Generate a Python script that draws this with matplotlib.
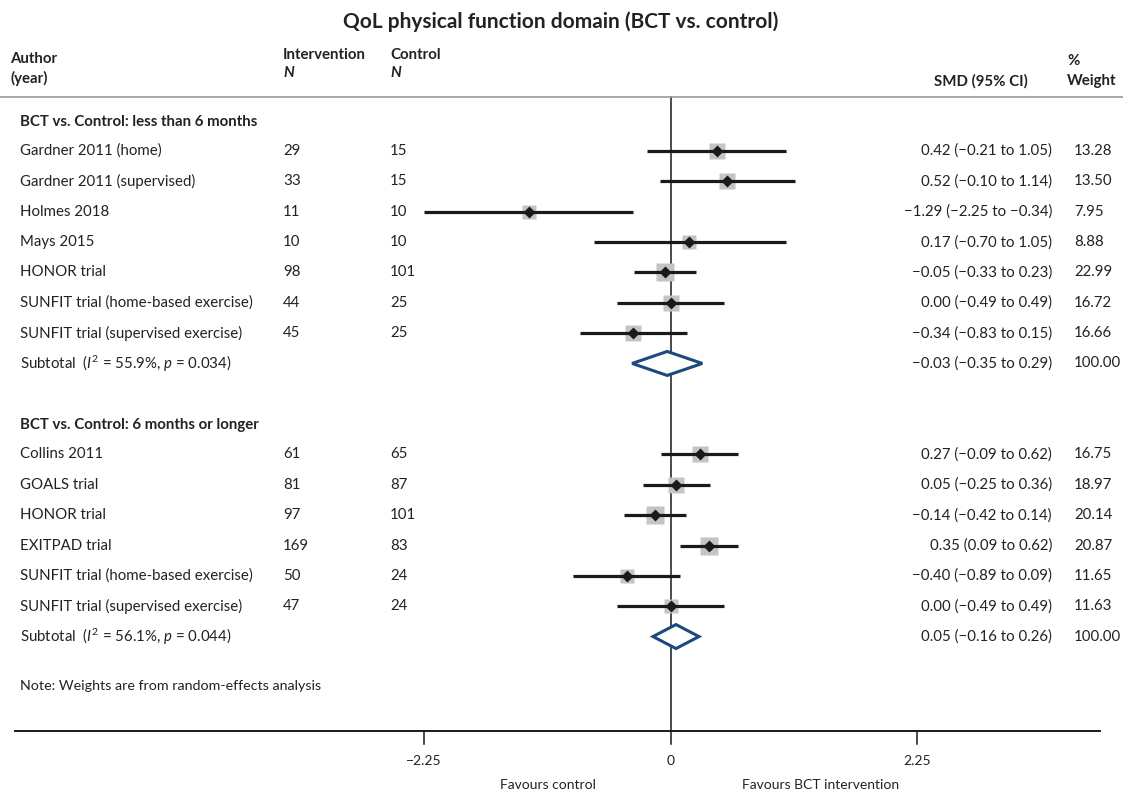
import numpy as np
import matplotlib
matplotlib.use("Agg")
import matplotlib.pyplot as plt
from matplotlib.patches import Polygon

plt.rcParams['font.family'] = ['Lato', 'DejaVu Sans']
plt.rcParams['mathtext.fontset'] = 'custom'
plt.rcParams['mathtext.rm'] = 'Lato'
plt.rcParams['mathtext.it'] = 'Lato:italic'

# ---- data ----
g1_names = ["Gardner 2011 (home)", "Gardner 2011 (supervised)", "Holmes 2018", "Mays 2015",
            "HONOR trial", "SUNFIT trial (home-based exercise)", "SUNFIT trial (supervised exercise)"]
g1_int_n = [29, 33, 11, 10, 98, 44, 45]
g1_ctl_n = [15, 15, 10, 10, 101, 25, 25]
g1_est = [0.42, 0.52, -1.29, 0.17, -0.05, 0.00, -0.34]
g1_lo = [-0.21, -0.10, -2.25, -0.70, -0.33, -0.49, -0.83]
g1_hi = [1.05, 1.14, -0.34, 1.05, 0.23, 0.49, 0.15]
g1_w = [13.28, 13.50, 7.95, 8.88, 22.99, 16.72, 16.66]
g1_sub = (-0.03, -0.35, 0.29)
g1_het = ("55.9", "0.034")

g2_names = ["Collins 2011", "GOALS trial", "HONOR trial", "EXITPAD trial",
            "SUNFIT trial (home-based exercise)", "SUNFIT trial (supervised exercise)"]
g2_int_n = [61, 81, 97, 169, 50, 47]
g2_ctl_n = [65, 87, 101, 83, 24, 24]
g2_est = [0.27, 0.05, -0.14, 0.35, -0.40, 0.00]
g2_lo = [-0.09, -0.25, -0.42, 0.09, -0.89, -0.49]
g2_hi = [0.62, 0.36, 0.14, 0.62, 0.09, 0.49]
g2_w = [16.75, 18.97, 20.14, 20.87, 11.65, 11.63]
g2_sub = (0.05, -0.16, 0.26)
g2_het = ("56.1", "0.044")

ticks = [-2.25, 0, 2.25]
tick_labels = ["\u22122.25", "0", "2.25"]

# ---- layout (pixels) ----
W, H = 1123, 793
zero_px, scale = 670.5, 109.6
def X(px):
    return (px - zero_px) / scale

fig = plt.figure(figsize=(W / 100, H / 100), dpi=100)
ax = fig.add_axes([0, 0, 1, 1])
ax.set_xlim(X(0), X(W))
ax.set_ylim(H, 0)
ax.axis('off')

tc = '#222222'
fs = 10.8

def fmt(v):
    return f"{v:.2f}".replace('-', '\u2212')

def draw_group(title, y0, names, ni, nc, est, lo, hi, w, sub, het):
    ax.text(X(20), y0, title, fontsize=fs, fontweight='bold', color=tc, va='center')
    step = 30.35
    for i in range(len(names)):
        y = y0 + 29 + i * step
        ax.text(X(20), y, names[i], fontsize=fs, color=tc, va='center')
        ax.text(X(283), y, str(ni[i]), fontsize=fs, color=tc, va='center')
        ax.text(X(390), y, str(nc[i]), fontsize=fs, color=tc, va='center')
        ax.plot([lo[i], hi[i]], [y, y], color='#1a1a1a', lw=2.3, solid_capstyle='butt', zorder=3)
        side = 18 * (w[i] / 22.99) ** 0.3 * 0.72
        ax.plot(est[i], y, marker='s', ms=side, color='#c4c4c4', mec='none', zorder=2)
        ax.plot(est[i], y, marker='D', ms=6, color='#1a1a1a', mec='none', zorder=4)
        ax.text(X(1052), y, f"{fmt(est[i])} ({fmt(lo[i])} to {fmt(hi[i])})",
                fontsize=fs, color=tc, va='center', ha='right')
        ax.text(X(1074), y, f"{w[i]:.2f}", fontsize=fs, color=tc, va='center')
    ys = y0 + 29 + len(names) * step
    ax.text(X(20), ys, "Subtotal  ($\\mathit{I}^2$ = " + het[0] + "%, $\\mathit{p}$ = " + het[1] + ")",
            fontsize=fs, color=tc, va='center')
    e, l, h = sub
    dh = 12
    ax.add_patch(Polygon([(l, ys), (e, ys - dh), (h, ys), (e, ys + dh)], closed=True,
                         facecolor='white', edgecolor='#1d4a7d', lw=2.2, zorder=5))
    ax.text(X(1052), ys, f"{fmt(e)} ({fmt(l)} to {fmt(h)})", fontsize=fs, color=tc,
            va='center', ha='right')
    ax.text(X(1074), ys, "100.00", fontsize=fs, color=tc, va='center')
    return ys

# title and header
ax.text(X(561), 22, "QoL physical function domain (BCT vs. control)", fontsize=15,
        fontweight='bold', color=tc, ha='center', va='center')
hfs = 10.8
ax.text(X(10), 59, "Author", fontsize=hfs, fontweight='bold', color=tc, va='center')
ax.text(X(10), 78, "(year)", fontsize=hfs, fontweight='bold', color=tc, va='center')
ax.text(X(283), 55, "Intervention", fontsize=hfs, fontweight='bold', color=tc, va='center')
ax.text(X(283), 73, "N", fontsize=hfs, fontweight='bold', style='italic', color=tc, va='center')
ax.text(X(390), 55, "Control", fontsize=hfs, fontweight='bold', color=tc, va='center')
ax.text(X(390), 73, "N", fontsize=hfs, fontweight='bold', style='italic', color=tc, va='center')
ax.text(X(1028), 81, "SMD (95% CI)", fontsize=hfs, fontweight='bold', color=tc, va='center', ha='right')
ax.text(X(1067), 61, "%", fontsize=hfs, fontweight='bold', color=tc, va='center')
ax.text(X(1067), 81, "Weight", fontsize=hfs, fontweight='bold', color=tc, va='center')
ax.plot([X(0), X(W)], [97, 97], color='#999999', lw=1.2)

s1 = draw_group("BCT vs. Control: less than 6 months", 122, g1_names, g1_int_n, g1_ctl_n,
                g1_est, g1_lo, g1_hi, g1_w, g1_sub, g1_het)
s2 = draw_group("BCT vs. Control: 6 months or longer", s1 + 62, g2_names, g2_int_n, g2_ctl_n,
                g2_est, g2_lo, g2_hi, g2_w, g2_sub, g2_het)

ax.text(X(20), 686, "Note: Weights are from random-effects analysis", fontsize=10.3, color=tc, va='center')

# axis
axis_y = 731
ax.plot([0, 0], [97, axis_y], color='#1a1a1a', lw=1.1, zorder=1)
ax.plot([X(15), X(1100)], [axis_y, axis_y], color='#1a1a1a', lw=1.4)
for t, lab in zip(ticks, tick_labels):
    ax.plot([t, t], [axis_y, axis_y + 13], color='#1a1a1a', lw=1.1)
    ax.text(t, 761, lab, fontsize=10, color=tc, ha='center', va='center')
ax.text(X(548), 785, "Favours control", fontsize=10, color=tc, ha='center', va='center')
ax.text(X(821), 785, "Favours BCT intervention", fontsize=10, color=tc, ha='center', va='center')

fig.savefig("out.png", dpi=100)
